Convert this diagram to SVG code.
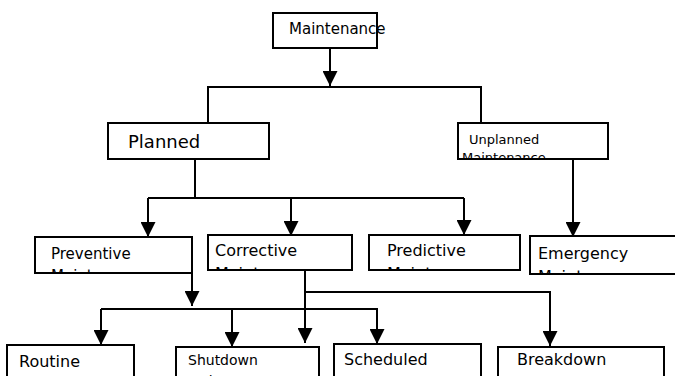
<svg xmlns="http://www.w3.org/2000/svg" width="675" height="376" viewBox="0 0 675 376">
<style>
.box{fill:#fff;stroke:#000;stroke-width:2}
.ln{fill:none;stroke:#000;stroke-width:2}
.t{font-family:"DejaVu Sans",Verdana,sans-serif;fill:#000}
</style>
<defs>
<marker id="ah" markerWidth="15" markerHeight="15" refX="15" refY="7.5" orient="auto" markerUnits="userSpaceOnUse" viewBox="0 0 15 15"><path d="M0,0 L15,7.5 L0,15 z" fill="#000"/></marker>
<clipPath id="cUn"><rect x="458" y="123" width="150" height="35"/></clipPath>
<clipPath id="cPr"><rect x="35" y="237" width="157" height="35"/></clipPath>
<clipPath id="cCo"><rect x="208" y="235" width="144" height="34"/></clipPath>
<clipPath id="cPd"><rect x="369" y="235" width="151" height="34"/></clipPath>
<clipPath id="cEm"><rect x="530" y="236" width="160" height="37"/></clipPath>
</defs>
<rect width="675" height="376" fill="#fff"/>
<g id="connectors">
<path class="ln" d="M330,48 V86" marker-end="url(#ah)"/>
<path class="ln" d="M208,123 V87 H481 V123"/>
<path class="ln" d="M195,159 V198"/>
<path class="ln" d="M148,198 H464"/>
<path class="ln" d="M148,198 V237" marker-end="url(#ah)"/>
<path class="ln" d="M291,199 V236" marker-end="url(#ah)"/>
<path class="ln" d="M464,198 V235" marker-end="url(#ah)"/>
<path class="ln" d="M573,160 V237" marker-end="url(#ah)"/>
<path class="ln" d="M192,270 V306" marker-end="url(#ah)"/>
<path class="ln" d="M305,270 V343" marker-end="url(#ah)"/>
<path class="ln" d="M305,292 H550 V346" marker-end="url(#ah)"/>
<path class="ln" d="M101,309 H377 V344" marker-end="url(#ah)"/>
<path class="ln" d="M101,309 V345" marker-end="url(#ah)"/>
<path class="ln" d="M232,309 V347" marker-end="url(#ah)"/>
</g>
<g id="maintenance">
<rect class="box" x="273" y="13" width="104" height="35"/>
<text class="t" x="289" y="34" font-size="15">Maintenance</text>
</g>
<g id="planned">
<rect class="box" x="108" y="123" width="161" height="36"/>
<text class="t" x="128" y="148" font-size="18">Planned</text>
</g>
<g id="unplanned">
<rect class="box" x="458" y="123" width="150" height="36"/>
<text class="t" font-size="13" clip-path="url(#cUn)"><tspan x="469" y="144">Unplanned</tspan><tspan x="462" y="162">Maintenance</tspan></text>
</g>
<g id="preventive">
<rect class="box" x="35" y="237" width="157" height="36"/>
<text class="t" font-size="15" clip-path="url(#cPr)"><tspan x="51" y="259">Preventive</tspan><tspan x="51" y="281">Maintenance</tspan></text>
</g>
<g id="corrective">
<rect class="box" x="208" y="235" width="144" height="35"/>
<text class="t" font-size="16" clip-path="url(#cCo)"><tspan x="215" y="256">Corrective</tspan><tspan x="215" y="279">Maintenance</tspan></text>
</g>
<g id="predictive">
<rect class="box" x="369" y="235" width="151" height="35"/>
<text class="t" font-size="16" clip-path="url(#cPd)"><tspan x="387" y="256">Predictive</tspan><tspan x="387" y="279">Maintenance</tspan></text>
</g>
<g id="emergency">
<rect class="box" x="530" y="236" width="160" height="38"/>
<text class="t" font-size="16" clip-path="url(#cEm)"><tspan x="538" y="259">Emergency</tspan><tspan x="538" y="282">Maintenance</tspan></text>
</g>
<g id="routine">
<rect class="box" x="7" y="345" width="127" height="40"/>
<text class="t" x="19" y="367" font-size="16">Routine</text>
</g>
<g id="shutdown">
<rect class="box" x="176" y="347" width="143" height="40"/>
<text class="t" font-size="14"><tspan x="188" y="365">Shutdown</tspan><tspan x="188" y="386">Maintenance</tspan></text>
</g>
<g id="scheduled">
<rect class="box" x="334" y="344" width="147" height="40"/>
<text class="t" font-size="16"><tspan x="344" y="365">Scheduled</tspan><tspan x="344" y="388">Maintenance</tspan></text>
</g>
<g id="breakdown">
<rect class="box" x="498" y="347" width="166" height="40"/>
<text class="t" font-size="16"><tspan x="517" y="365">Breakdown</tspan><tspan x="517" y="388">Maintenance</tspan></text>
</g>
</svg>
